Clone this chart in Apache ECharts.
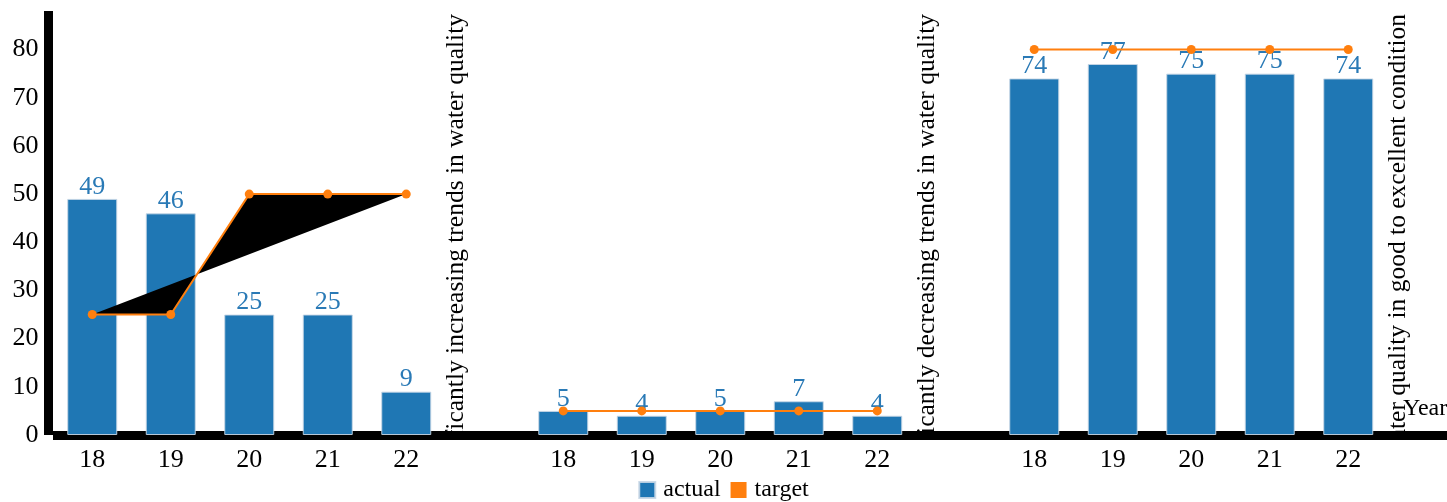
<!DOCTYPE html>
<html>
<head>
<meta charset="utf-8">
<script src="https://cdn.jsdelivr.net/npm/echarts@6/dist/echarts.min.js"></script>
<style>
  html, body { margin: 0; padding: 0; background: #fff; }
  #chart { width: 1447px; height: 502px; }
</style>
</head>
<body>
<div id="chart"></div>
<script>
// ---- data ----
const categories = ['18','19','20','21','22','', '18','19','20','21','22','', '18','19','20','21','22',''];
const actual = [49, 46, 25, 25, 9, null, 5, 4, 5, 7, 4, null, 74, 77, 75, 75, 74, null];
const target = [25, 25, 50, 50, 50, null, 5, 5, 5, 5, 5, null, 80, 80, 80, 80, 80, null];
const groupStarts = [0, 6, 12];
const groupLabelIndex = [5, 11, 17];
const groupLabels = [
  'Sites with significantly increasing trends in water quality',
  'Sites with significantly decreasing trends in water quality',
  'Sites with water quality in good to excellent condition'
];
const yMax = 88;

const FONT = '"Liberation Serif", "Times New Roman", serif';

const chart = echarts.init(document.getElementById('chart'), null, { renderer: 'canvas' });

const option = {
  animation: false,
  textStyle: { fontFamily: FONT },
  grid: { left: 53, width: 1413, top: 11, height: 424, containLabel: false, outerBoundsMode: 'none' },
  legend: {
    data: ['actual', 'target'],
    top: 473,
    left: 'center',
    icon: 'rect',
    itemWidth: 16,
    itemHeight: 16,
    itemGap: 10,
    textStyle: { fontSize: 24, fontFamily: FONT, color: '#000', padding: [0, 0, 0, 3] }
  },
  xAxis: {
    type: 'category',
    data: categories,
    offset: 4.5,
    name: 'Year',
    nameLocation: 'end',
    nameGap: -63,
    nameTextStyle: { fontSize: 24, fontFamily: FONT, color: '#000', verticalAlign: 'bottom', padding: [0, 0, 14, 0] },
    axisLine: { show: true, lineStyle: { color: '#000', width: 9, cap: 'butt' } },
    axisTick: { show: false },
    axisLabel: { fontSize: 26, color: '#000', margin: 8, interval: 0 },
    splitLine: { show: false }
  },
  yAxis: {
    type: 'value',
    min: 0,
    max: yMax,
    interval: 10,
    offset: 4.5,
    axisLine: { show: true, lineStyle: { color: '#000', width: 9, cap: 'butt' } },
    axisTick: { show: false },
    axisLabel: { fontSize: 26, color: '#000', margin: 10, showMaxLabel: false },
    splitLine: { show: false }
  },
  series: [
    {
      name: 'actual',
      type: 'bar',
      data: actual,
      barWidth: 50,
      itemStyle: { color: '#1f77b4', borderColor: 'rgba(200,215,230,0.9)', borderWidth: 1 },
      label: { show: true, position: 'top', distance: -1, fontSize: 26, color: '#2a7ab6', fontFamily: FONT },
      z: 2
    },
    {
      name: 'fill',
      type: 'custom',
      data: groupStarts.map(s => [s, 0]),
      silent: true,
      z: 3,
      renderItem: function (params, api) {
        const start = api.value(0);
        const pts = [];
        for (let i = start; i < start + 5; i++) {
          pts.push(api.coord([i, target[i]]));
        }
        return { type: 'polygon', shape: { points: pts }, style: { fill: '#000' } };
      },
      tooltip: { show: false }
    },
    {
      name: 'target',
      type: 'line',
      data: target,
      connectNulls: false,
      symbol: 'circle',
      symbolSize: 9,
      showAllSymbol: true,
      lineStyle: { color: '#ff7f0e', width: 2 },
      itemStyle: { color: '#ff7f0e' },
      z: 4
    },
    {
      name: 'groupLabels',
      type: 'custom',
      clip: true,
      silent: true,
      z: 5,
      data: groupLabelIndex.map(i => [i, yMax]),
      renderItem: function (params, api) {
        const idx = api.value(0);
        const center = api.coord([idx, api.value(1)]);
        const band = api.size([1, 0])[0];
        return {
          type: 'text',
          x: center[0] - band / 2 - 2,
          y: center[1] + 3,
          rotation: Math.PI / 2,
          style: {
            text: groupLabels[params.dataIndex],
            font: '25.5px ' + FONT,
            fill: '#000',
            align: 'right',
            verticalAlign: 'top'
          }
        };
      }
    }
  ]
};

chart.setOption(option);
</script>
</body>
</html>
